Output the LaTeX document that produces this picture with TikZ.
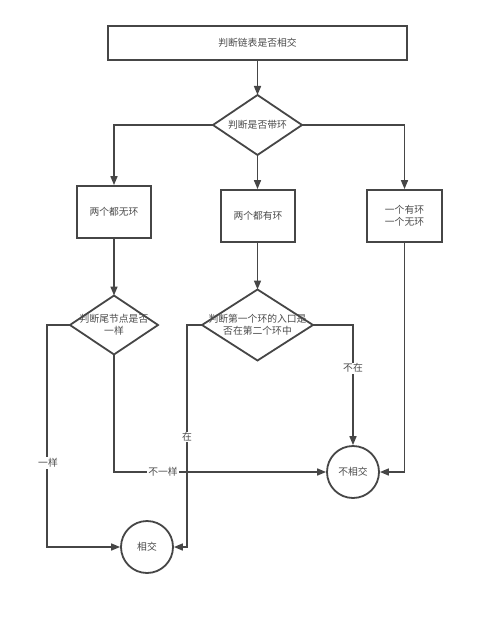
\documentclass[tikz,border=0pt]{standalone}
\usepackage{fontspec}
\newfontfamily\cjk{Noto Sans CJK SC}
\usetikzlibrary{shapes.geometric,arrows.meta}
\definecolor{ln}{RGB}{70,70,70}
\definecolor{tx}{RGB}{75,75,75}
\begin{document}
\begin{tikzpicture}[x=1pt,y=-1pt,
  every node/.style={font=\cjk\fontsize{9.8}{12}\selectfont, text=tx},
  box/.style={draw=ln, line width=1.8pt, rectangle, inner sep=0pt, align=center},
  dia/.style={draw=ln, line width=1.8pt, diamond, inner sep=0pt, outer sep=0pt},
  circ/.style={draw=ln, line width=1.8pt, circle, minimum size=52pt, inner sep=0pt},
  txt/.style={align=center, inner sep=0pt},
  lbl/.style={fill=white, inner sep=1pt},
  arr/.style={draw=ln, line width=1.6pt, -{Triangle[length=9pt,width=7pt]}},
  ln/.style={draw=ln, line width=1.6pt}]
\useasboundingbox (0,0) rectangle (493,620);
\fill[white] (0,0) rectangle (493,620);
% nodes
\node[box, minimum width=299pt, minimum height=34pt] (top) at (257.5,43) {判断链表是否相交};
\node[dia, minimum width=89pt, minimum height=60pt] (d1) at (257.5,125) {};
\node[txt] (d1t) at (d1) {判断是否带环};
\node[box, minimum width=74pt, minimum height=52pt] (b1) at (114,212) {两个都无环};
\node[box, minimum width=74pt, minimum height=52pt] (b2) at (258,216) {两个都有环};
\node[box, minimum width=75pt, minimum height=52pt] (b3) at (404.5,216) {一个有环\\一个无环};
\node[dia, minimum width=88pt, minimum height=59pt] (d2) at (114,325) {};
\node[txt] (d2t) at (d2) {判断尾节点是否\\一样};
\node[dia, minimum width=111pt, minimum height=71pt] (d3) at (257.5,325) {};
\node[txt] (d3t) at (d3) {判断第一个环的入口是\\否在第二个环中};
\node[circ] (c1) at (147,547) {相交};
\node[circ] (c2) at (353,472) {不相交};
\coordinate (k1) at (47,325);
\coordinate (k2) at (187,325);
% connectors
\draw[arr] (top.south) -- (d1.north);
\draw[arr] (d1.west) -| (b1.north);
\draw[arr] (d1.south) -- (b2.north -| d1.south);
\draw[arr] (d1.east) -| (b3.north);
\draw[arr] (b1.south) -- (d2.north);
\draw[arr] (b2.south -| d3.north) -- (d3.north);
\draw[arr] (d2.west) -- (k1) |- (c1.west);
\draw[arr] (d2.south) |- (c2.west);
\draw[arr] (d3.west) -- (k2) |- (c1.east);
\draw[arr] (d3.east) -| (c2.north);
\draw[arr] (b3.south) |- (c2.east);
% labels
\node[lbl] (l1) at (48,463) {一样};
\node[lbl] (l2) at (163,472) {不一样};
\node[lbl] (l3) at (187,437) {在};
\node[lbl] (l4) at (353,368) {不在};
\end{tikzpicture}
\end{document}
